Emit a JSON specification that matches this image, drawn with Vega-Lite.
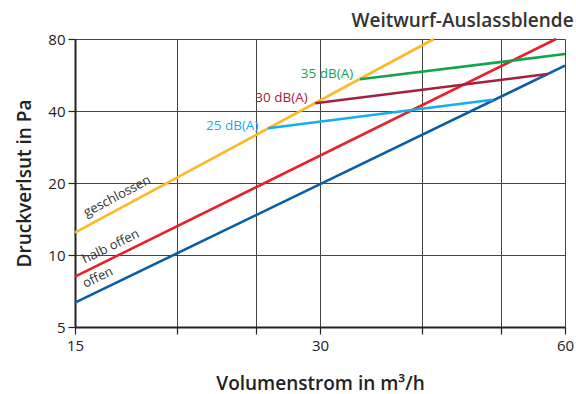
{
  "$schema": "https://vega.github.io/schema/vega-lite/v6.json",
  "autosize": {"type": "none"},
  "width": 490,
  "height": 288,
  "padding": {"left": 75, "top": 39, "right": 11, "bottom": 67},
  "background": "white",
  "config": {
    "font": "Open Sans",
    "view": {"stroke": null},
    "axis": {
      "labelFont": "Open Sans",
      "titleFont": "Open Sans",
      "labelFontSize": 15,
      "labelColor": "#222",
      "titleFontSize": 19,
      "titleFontWeight": 600,
      "titleColor": "#222",
      "gridColor": "#444",
      "gridWidth": 1,
      "gridOpacity": 1,
      "domainColor": "#222",
      "domainWidth": 2,
      "tickColor": "#222",
      "tickWidth": 1.2
    }
  },
  "title": {
    "text": "Weitwurf-Auslassblende",
    "anchor": "end",
    "fontSize": 19,
    "fontWeight": 600,
    "color": "#333",
    "font": "Open Sans",
    "offset": 1
  },
  "datasets": {
    "lines": [
      {"serie": "offen", "q": 15, "p": 6.32},
      {"serie": "offen", "q": 60, "p": 61.9},
      {"serie": "halb offen", "q": 15, "p": 8.12},
      {"serie": "halb offen", "q": 58.5, "p": 80},
      {"serie": "geschlossen", "q": 15, "p": 12.4},
      {"serie": "geschlossen", "q": 41.4, "p": 80},
      {"serie": "25 dB(A)", "q": 25.9, "p": 33.9},
      {"serie": "25 dB(A)", "q": 48.9, "p": 44.6},
      {"serie": "30 dB(A)", "q": 29.6, "p": 43.1},
      {"serie": "30 dB(A)", "q": 57.1, "p": 57.1},
      {"serie": "35 dB(A)", "q": 33.6, "p": 54.3},
      {"serie": "35 dB(A)", "q": 60, "p": 69.2}
    ],
    "dblabels": [
      {"serie": "25 dB(A)", "q": 23.4, "p": 34.6},
      {"serie": "30 dB(A)", "q": 26.9, "p": 45.3},
      {"serie": "35 dB(A)", "q": 30.6, "p": 57.1}
    ],
    "lab28": [
      {"text": "geschlossen", "q": 16.9, "p": 17.6}
    ],
    "lab26": [
      {"text": "halb offen", "q": 16.6, "p": 10.85},
      {"text": "offen", "q": 16.0, "p": 8.05}
    ]
  },
  "layer": [
    {
      "data": {"name": "lines"},
      "mark": {"type": "line", "strokeWidth": 2.6},
      "encoding": {
        "x": {
          "field": "q", "type": "quantitative",
          "scale": {"type": "log", "domain": [15, 60], "nice": false},
          "axis": {
            "values": [15, 20, 25, 30, 40, 50, 60],
            "labelExpr": "datum.value == 15 || datum.value == 30 || datum.value == 60 ? datum.label : ''",
            "format": "d",
            "labelFlush": false,
            "title": "Volumenstrom in m³/h",
            "titlePadding": 21,
            "tickSize": 7,
            "labelPadding": 4
          }
        },
        "y": {
          "field": "p", "type": "quantitative",
          "scale": {"type": "log", "domain": [5, 80], "nice": false},
          "axis": {
            "values": [5, 10, 20, 40, 80],
            "format": "d",
            "labelFlush": false,
            "title": "Druckverlsut in Pa",
            "titlePadding": 13,
            "tickSize": 7,
            "labelPadding": 3
          }
        },
        "color": {
          "field": "serie", "type": "nominal",
          "scale": {
            "domain": ["offen", "halb offen", "geschlossen", "25 dB(A)", "30 dB(A)", "35 dB(A)"],
            "range": ["#0a5ea8", "#e8202b", "#fbb923", "#14aeea", "#a3203f", "#13a44b"]
          },
          "legend": null
        },
        "detail": {"field": "serie"}
      }
    },
    {
      "data": {"name": "dblabels"},
      "mark": {"type": "text", "fontSize": 13.5, "font": "Open Sans", "align": "center", "baseline": "middle"},
      "encoding": {
        "x": {"field": "q", "type": "quantitative"},
        "y": {"field": "p", "type": "quantitative"},
        "text": {"field": "serie"},
        "color": {"field": "serie", "type": "nominal", "legend": null}
      }
    },
    {
      "data": {"name": "lab28"},
      "mark": {"type": "text", "fontSize": 13, "font": "Open Sans", "align": "center", "baseline": "middle", "angle": 332, "color": "#333"},
      "encoding": {
        "x": {"field": "q", "type": "quantitative"},
        "y": {"field": "p", "type": "quantitative"},
        "text": {"field": "text"}
      }
    },
    {
      "data": {"name": "lab26"},
      "mark": {"type": "text", "fontSize": 13, "font": "Open Sans", "align": "center", "baseline": "middle", "angle": 334, "color": "#333"},
      "encoding": {
        "x": {"field": "q", "type": "quantitative"},
        "y": {"field": "p", "type": "quantitative"},
        "text": {"field": "text"}
      }
    }
  ]
}
